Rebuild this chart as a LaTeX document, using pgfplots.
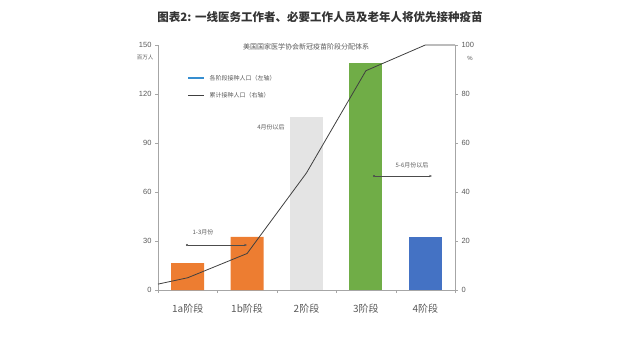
\documentclass[border=0pt]{standalone}
\usepackage{pgfplots}
\pgfplotsset{compat=1.18}
\usetikzlibrary{arrows.meta}
\usepackage{fontspec}
\setmainfont{Liberation Sans}
\newfontfamily\cjk{Noto Sans CJK SC}
\definecolor{bOrange}{HTML}{ED7D31}
\definecolor{bGray}{HTML}{E4E4E4}
\definecolor{bGreen}{HTML}{70AD47}
\definecolor{bBlue}{HTML}{4472C4}
\definecolor{txt}{HTML}{595959}
\definecolor{axc}{HTML}{A6A6A6}
\begin{document}
\begin{tikzpicture}[x=1pt,y=1pt]
\path (0,0) rectangle (640,360);
\node[font=\cjk\bfseries\fontsize{11.5}{12}\selectfont, text=black!80] at (320,343) {图表2: 一线医务工作者、必要工作人员及老年人将优先接种疫苗};
\begin{axis}[
  at={(158pt,70pt)}, anchor=south west,
  scale only axis, width=297pt, height=245pt,
  xmin=-0.5, xmax=4.5, ymin=0, ymax=150,
  axis x line*=bottom, axis y line*=left,
  axis line style={axc, line width=0.6pt},
  ytick={0,30,60,90,120,150},
  xtick={0,1,2,3,4},
  xticklabels={1a阶段,1b阶段,2阶段,3阶段,4阶段},
  x tick label style={font=\cjk\fontsize{10}{10}\selectfont, text=txt, yshift=-8pt},
  y tick label style={font=\fontsize{7.5}{8}\selectfont, text=txt},
  /pgf/number format/assume math mode=true,
  major x tick style={draw=none},
  minor xtick={-0.5,0.5,1.5,2.5,3.5,4.5},
  minor x tick style={axc},
  minor tick length=3pt,
  tick align=outside, major tick length=3pt,
  y tick style={axc},
  ybar, bar width=33pt, bar shift=0pt,
  clip=false,
]
\addplot[fill=bOrange, draw=none] coordinates {(0,16.5) (1,32.5)};
\addplot[fill=bGray, draw=none] coordinates {(2,106)};
\addplot[fill=bGreen, draw=none] coordinates {(3,139)};
\addplot[fill=bBlue, draw=none] coordinates {(4,32.5)};
\end{axis}
\begin{axis}[
  at={(158pt,70pt)}, anchor=south west,
  scale only axis, width=297pt, height=245pt,
  xmin=-0.5, xmax=4.5, ymin=0, ymax=100,
  axis x line=none, axis y line*=right,
  axis line style={axc, line width=0.6pt},
  ytick={0,20,40,60,80,100},
  y tick label style={font=\fontsize{7.5}{8}\selectfont, text=txt},
  /pgf/number format/assume math mode=true,
  tick align=outside, major tick length=3pt,
  y tick style={axc},
  clip=false,
]
\addplot[color=black!75, line width=0.8pt] coordinates {(-0.5,2.4) (0,5.0) (1,14.9) (2,47.8) (3,89.5) (4,100) (4.5,100)};
\end{axis}
% annotations
\node[font=\cjk\fontsize{5.5}{6}\selectfont, text=txt] at (145,303) {百万人};
\node[font=\fontsize{6}{6}\selectfont, text=txt] at (470,302) {\%};
\node[font=\cjk\fontsize{7}{7}\selectfont, text=txt] at (306,313) {美国国家医学协会新冠疫苗阶段分配体系};
\draw[color=bBlue!80!cyan, line width=1.5pt] (188,282) -- (204,282);
\node[anchor=west, font=\cjk\fontsize{6}{6}\selectfont, text=txt] at (206,282) {各阶段接种人口（左轴）};
\draw[color=black!75, line width=0.8pt] (188,265) -- (204,265);
\node[anchor=west, font=\cjk\fontsize{6}{6}\selectfont, text=txt] at (206,265) {累计接种人口（右轴）};
\node[font=\cjk\fontsize{6}{6}\selectfont, text=txt] at (203,128) {1-3月份};
\draw[black!70, line width=0.5pt, {Circle[length=2pt]}-{Stealth[length=3pt]}] (186,115) -- (247,115);
\node[font=\cjk\fontsize{6}{6}\selectfont, text=txt] at (271,233) {4月份以后};
\node[font=\cjk\fontsize{6}{6}\selectfont, text=txt] at (412,195) {5-6月份以后};
\draw[black!70, line width=0.5pt, {Circle[length=2pt]}-{Stealth[length=3pt]}] (373,184) -- (432,184);
\end{tikzpicture}
\end{document}
